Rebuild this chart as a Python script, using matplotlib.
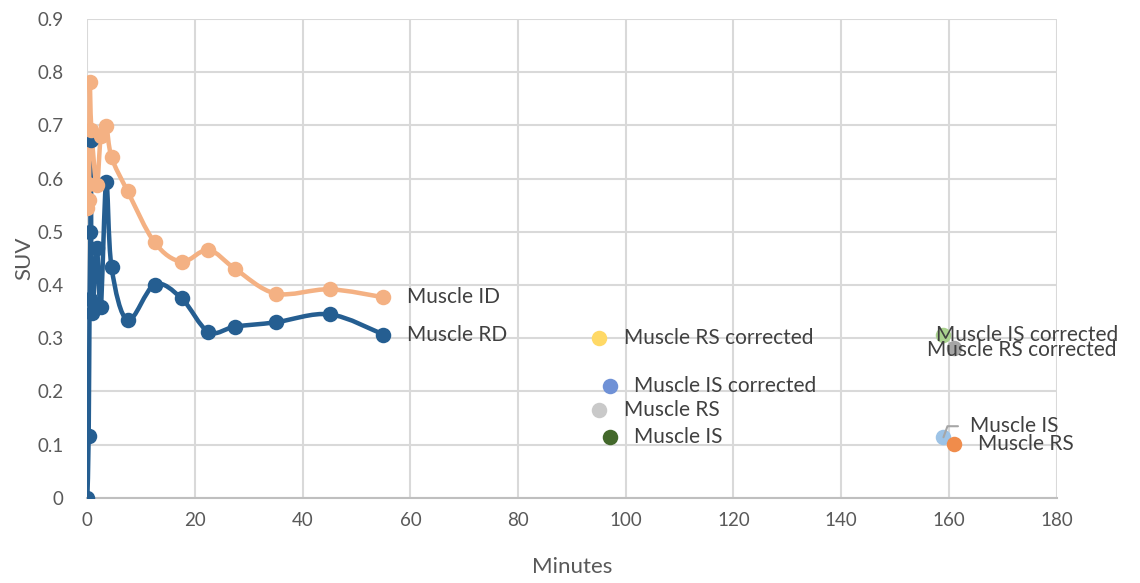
import numpy as np
import matplotlib
matplotlib.use("Agg")
import matplotlib.pyplot as plt
from matplotlib.path import Path
from matplotlib.patches import PathPatch

# Dynamic time-activity curves (minutes, SUV)
time_id = [0.0, 0.17, 0.33, 0.42, 0.75, 1.75, 2.5, 3.5, 4.5, 7.5, 12.5, 17.5,
           22.5, 27.5, 35, 45, 55]
suv_id = [0.545, 0.590, 0.559, 0.782, 0.692, 0.588, 0.680, 0.698, 0.640, 0.576,
          0.480, 0.444, 0.466, 0.430, 0.384, 0.392, 0.377]

time_rd = [0.0, 0.25, 0.42, 0.58, 0.67, 0.85, 1.75, 2.5, 3.5, 4.5, 7.5, 12.5,
           17.5, 22.5, 27.5, 35, 45, 55]
suv_rd = [0.0, 0.117, 0.373, 0.500, 0.672, 0.348, 0.470, 0.359, 0.594, 0.433,
          0.334, 0.401, 0.375, 0.312, 0.322, 0.330, 0.345, 0.307]

# Static single-frame measurements
point_names = ["Muscle RS corrected", "Muscle IS corrected", "Muscle RS", "Muscle IS",
               "Muscle IS corrected", "Muscle RS corrected", "Muscle IS", "Muscle RS"]
point_minutes = [95, 97, 95, 97, 159, 161, 159, 161]
point_suv = [0.300, 0.210, 0.165, 0.114, 0.306, 0.281, 0.114, 0.101]

x_ticks = [0, 20, 40, 60, 80, 100, 120, 140, 160, 180]
y_ticks = [0, 0.1, 0.2, 0.3, 0.4, 0.5, 0.6, 0.7, 0.8, 0.9]

# Styling
plt.rcParams["font.family"] = ["Lato", "DejaVu Sans"]
ORANGE = "#F4B183"
BLUE = "#255E91"
point_colors = ["#FFD966", "#6F91D6", "#C9C9C9", "#43682B",
                "#A9D18E", "#A5A5A5", "#9DC3E6", "#F08C4B"]
# label offsets in pixels (dx, dy) from each marker
point_offsets = [(25, 0), (24, 0), (25, 0), (24, 0),
                 (-7, 0), (-27, -2), (27, 11), (24, 0)]
LABEL_COLOR = "#404040"
TICK_COLOR = "#595959"
GRID_COLOR = "#D9D9D9"
LABEL_SIZE = 15
MARKER_PX = 15.5
LINE_PX = 4.5


def smooth_path(x, y):
    """Cardinal (Catmull-Rom style) Bezier path through the given points."""
    pts = np.column_stack([x, y]).astype(float)
    n = len(pts)
    verts = [pts[0]]
    codes = [Path.MOVETO]
    for i in range(n - 1):
        p0 = pts[max(i - 1, 0)]
        p1 = pts[i]
        p2 = pts[i + 1]
        p3 = pts[min(i + 2, n - 1)]
        c1 = p1 + (p2 - p0) / 6.0
        c2 = p2 - (p3 - p1) / 6.0
        verts += [c1, c2, p2]
        codes += [Path.CURVE4] * 3
    return Path(verts, codes)


DPI = 100
fig = plt.figure(figsize=(11.4, 5.83), dpi=DPI)
ax = fig.add_axes([0.0766, 0.146, 0.8502, 0.8214])

px = 72.0 / DPI  # pixels -> points

# Muscle RD then Muscle ID
for t, v, col, name in [(time_rd, suv_rd, BLUE, "Muscle RD"),
                        (time_id, suv_id, ORANGE, "Muscle ID")]:
    ax.add_patch(PathPatch(smooth_path(t, v), facecolor="none", edgecolor=col,
                           lw=LINE_PX * px, capstyle="round", joinstyle="round",
                           zorder=3))
    ax.plot(t, v, linestyle="none", marker="o", ms=MARKER_PX * px, color=col,
            markeredgewidth=0, zorder=4)
    ax.annotate(name, xy=(t[-1], v[-1]), xytext=(24 * px, 0),
                textcoords="offset points", ha="left", va="center",
                fontsize=LABEL_SIZE, color=LABEL_COLOR, zorder=6)

for name, t, v, col, (dx, dy) in zip(point_names, point_minutes, point_suv,
                                     point_colors, point_offsets):
    ax.plot([t], [v], linestyle="none", marker="o", ms=MARKER_PX * px, color=col,
            markeredgewidth=0, zorder=4)
    if dy > 5:
        ax.annotate(name, xy=(t, v), xytext=(dx * px, dy * px),
                    textcoords="offset points", ha="left", va="center",
                    fontsize=LABEL_SIZE, color=LABEL_COLOR, zorder=6,
                    arrowprops=dict(arrowstyle="-", color="#A6A6A6", lw=1.5,
                                    relpos=(0, 0.5), shrinkA=7, shrinkB=0,
                                    connectionstyle="angle,angleA=0,angleB=70,rad=0"))
    else:
        ax.annotate(name, xy=(t, v), xytext=(dx * px, dy * px),
                    textcoords="offset points", ha="left", va="center",
                    fontsize=LABEL_SIZE, color=LABEL_COLOR, zorder=6)

ax.set_xlim(0, 180)
ax.set_ylim(0, 0.9)
ax.set_xticks(x_ticks)
ax.set_yticks(y_ticks)
ax.set_xticklabels([str(x) for x in x_ticks])
ax.set_yticklabels(["0" if y == 0 else f"{y:.1f}" for y in y_ticks])
ax.tick_params(axis="both", length=0, labelsize=13.5, colors=TICK_COLOR)
ax.tick_params(axis="x", pad=10)
ax.tick_params(axis="y", pad=17)

ax.grid(True, color=GRID_COLOR, lw=1.5)
ax.set_axisbelow(True)
for side in ["top", "right", "left"]:
    ax.spines[side].set_visible(False)
ax.spines["bottom"].set_color("#BFBFBF")
ax.spines["bottom"].set_linewidth(1.5)
ax.spines["bottom"].set_zorder(2)

ax.set_xlabel("Minutes", fontsize=16, color=TICK_COLOR, labelpad=20)
ax.set_ylabel("SUV", fontsize=16, color=TICK_COLOR, labelpad=2)

fig.savefig("out.png", dpi=DPI)
